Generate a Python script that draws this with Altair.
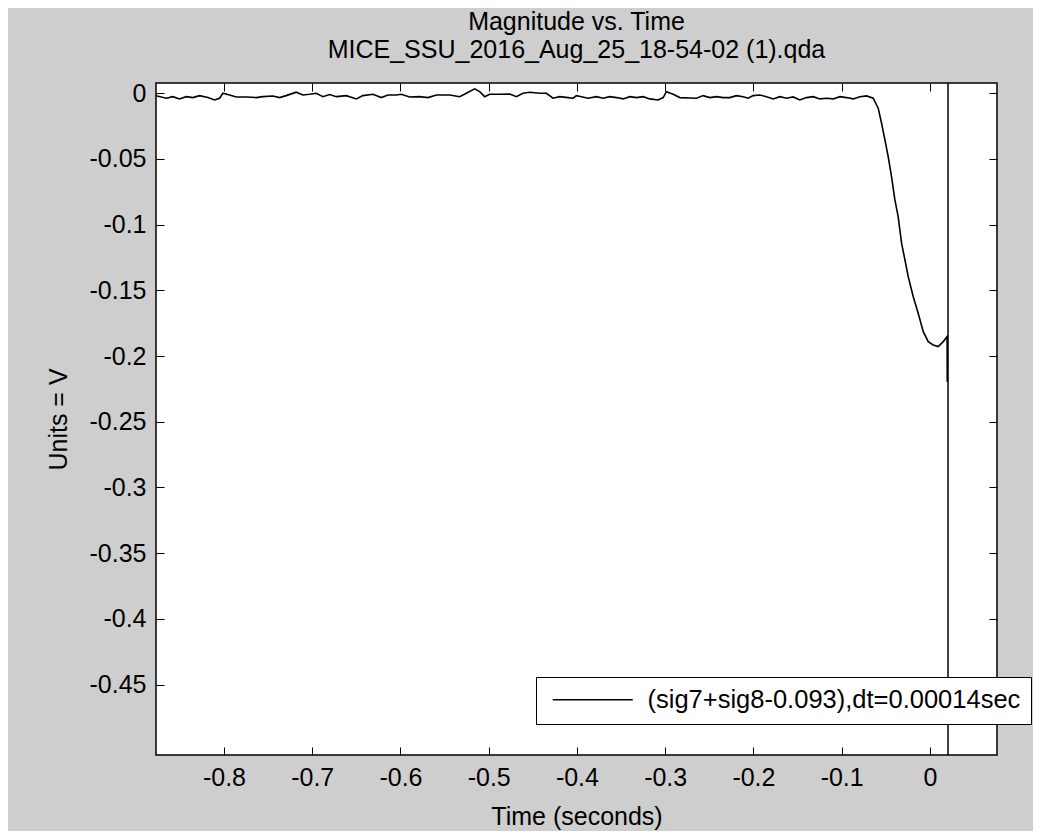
import altair as alt
import pandas as pd

# ---- data ----
time_s = [
    -0.8775, -0.8654, -0.8579, -0.8503, -0.8427, -0.8352, -0.8277, -0.8182, -0.8107, -0.8050,
    -0.8012, -0.7937, -0.7861, -0.7748, -0.7634, -0.7559, -0.7446, -0.7370, -0.7295, -0.7181,
    -0.7106, -0.7029, -0.6954, -0.6878, -0.6803,
    -0.6727, -0.6614, -0.6500, -0.6425, -0.6312, -0.6217, -0.6142, -0.6046, -0.5990, -0.5896,
    -0.5782, -0.5688, -0.5593, -0.5442, -0.5329, -0.5253, -0.5159, -0.5102, -0.5045, -0.4989,
    -0.4875, -0.4762,
    -0.4686, -0.4611, -0.4535, -0.4422, -0.4346, -0.4271, -0.4195, -0.4101, -0.4044, -0.4006,
    -0.3949, -0.3874, -0.3779, -0.3703, -0.3628, -0.3552, -0.3477, -0.3401, -0.3325, -0.3250,
    -0.3175, -0.3080, -0.3023, -0.2986, -0.2910, -0.2834, -0.2721,
    -0.2645, -0.2570, -0.2494, -0.2418, -0.2343, -0.2268, -0.2192, -0.2117, -0.2060, -0.2003,
    -0.1927, -0.1852, -0.1777, -0.1701, -0.1625, -0.1550, -0.1474, -0.1399, -0.1323, -0.1247,
    -0.1172, -0.1096, -0.1020, -0.0945, -0.0870, -0.0794, -0.0718,
    -0.0643, -0.0586, -0.0548, -0.0510, -0.0473, -0.0435, -0.0397, -0.0360, -0.0321, -0.0283,
    -0.0246, -0.0189, -0.0133, -0.0076, -0.0019, 0.0037, 0.0094, 0.0151, 0.0195, 0.0196,
]
volts = [
    -0.0018, -0.0038, -0.0026, -0.0043, -0.0026, -0.0033, -0.0018, -0.0033, -0.0051, -0.0038,
    0.0000, -0.0013, -0.0028, -0.0028, -0.0033, -0.0026, -0.0021, -0.0033, -0.0018, 0.0008,
    -0.0013, -0.0008, 0.0000, -0.0026, -0.0010,
    -0.0026, -0.0018, -0.0043, -0.0018, -0.0008, -0.0033, -0.0013, -0.0013, -0.0008, -0.0028,
    -0.0026, -0.0033, -0.0013, -0.0013, -0.0026, 0.0000, 0.0033, 0.0012, -0.0026, -0.0008,
    -0.0008, -0.0006,
    -0.0026, 0.0000, 0.0008, 0.0000, 0.0000, -0.0038, -0.0026, -0.0033, -0.0038, -0.0018,
    -0.0026, -0.0038, -0.0026, -0.0038, -0.0026, -0.0033, -0.0043, -0.0026, -0.0033, -0.0026,
    -0.0043, -0.0051, -0.0033, 0.0012, -0.0008, -0.0033, -0.0036,
    -0.0038, -0.0018, -0.0033, -0.0026, -0.0033, -0.0033, -0.0018, -0.0026, -0.0038, -0.0018,
    -0.0013, -0.0026, -0.0043, -0.0026, -0.0038, -0.0028, -0.0051, -0.0033, -0.0026, -0.0043,
    -0.0038, -0.0043, -0.0026, -0.0033, -0.0043, -0.0026, -0.0020,
    -0.0038, -0.0114, -0.0228, -0.0355, -0.0482, -0.0635, -0.0812, -0.0939, -0.1142, -0.1269,
    -0.1396, -0.1548, -0.1674, -0.1814, -0.1890, -0.1916, -0.1928, -0.1890, -0.1852, -0.2195,
]
marker_time = [0.0205]

x_ticks = [-0.8, -0.7, -0.6, -0.5, -0.4, -0.3, -0.2, -0.1, 0.0]
y_ticks = [0.0, -0.05, -0.1, -0.15, -0.2, -0.25, -0.3, -0.35, -0.4, -0.45]
x_domain = [-0.877, 0.076]
y_domain = [-0.5036, 0.0078]

series_label = "(sig7+sig8-0.093),dt=0.00014sec"
title_lines = ["Magnitude vs. Time", "MICE_SSU_2016_Aug_25_18-54-02 (1).qda"]
x_title = "Time (seconds)"
y_title = "Units = V"

assert len(time_s) == len(volts)

FONT = "Liberation Sans"
FS = 25
BG = "#cecece"

df = pd.DataFrame({"t": time_s, "v": volts, "series": series_label,
                   "idx": list(range(len(time_s)))})
mk = pd.DataFrame({"t": marker_time})

xs = alt.Scale(domain=x_domain, nice=False, zero=False)
ys = alt.Scale(domain=y_domain, nice=False, zero=False)
label_expr = "datum.value == 0 ? '0' : '-' + format(abs(datum.value), '.2~f')"

common = dict(offset=-8, tickSize=8, domain=False, grid=False, tickColor="black",
              tickWidth=1, labelOverlap=False, labelFlush=False)

x_bottom = alt.Axis(orient="bottom", values=x_ticks, labelExpr=label_expr,
                    labelFont=FONT, labelFontSize=FS, labelColor="black", labelPadding=10,
                    title=x_title, titleFont=FONT, titleFontSize=FS, titleFontWeight="normal",
                    titleColor="black", titlePadding=14, **common)
y_left = alt.Axis(orient="left", values=y_ticks, labelExpr=label_expr,
                  labelFont=FONT, labelFontSize=FS, labelColor="black", labelPadding=10,
                  title=y_title, titleFont=FONT, titleFontSize=FS, titleFontWeight="normal",
                  titleColor="black", titlePadding=18, **common)
x_top = alt.Axis(orient="top", values=x_ticks, labels=False, title=None, **common)
y_right = alt.Axis(orient="right", values=y_ticks, labels=False, title=None, **common)

frame = alt.Chart(df).mark_line(strokeOpacity=0).encode(
    x=alt.X("t:Q", scale=xs, axis=x_top),
    y=alt.Y("v:Q", scale=ys, axis=y_right),
)

line = alt.Chart(df).mark_line(strokeWidth=1.6, clip=True).encode(
    x=alt.X("t:Q", scale=xs, axis=x_bottom),
    y=alt.Y("v:Q", scale=ys, axis=y_left),
    order="idx:Q",
    color=alt.Color("series:N", scale=alt.Scale(domain=[series_label], range=["black"]),
                    legend=alt.Legend(orient="none", legendX=380, legendY=594, title=None,
                                      symbolType="M-1,0H7", symbolSize=400,
                                      symbolStrokeWidth=1.5, symbolStrokeColor="black",
                                      symbolFillColor="transparent", symbolOffset=4,
                                      labelFont=FONT, labelFontSize=25.5, labelColor="black",
                                      labelOffset=72, labelLimit=1000,
                                      padding=10, fillColor="white", strokeColor="black")),
)

rule = alt.Chart(mk).mark_rule(color="black", strokeWidth=1.5).encode(
    x=alt.X("t:Q", scale=xs, axis=None),
)

chart = alt.layer(frame, line, rule).resolve_axis(x="independent", y="independent").properties(
    width=841,
    height=672,
    autosize=alt.AutoSizeParams(type="none"),
    padding={"left": 148, "top": 75, "right": 36, "bottom": 76},
    background=BG,
    title=alt.TitleParams(text=title_lines, font=FONT, fontSize=25, fontWeight="normal",
                          color="black", anchor="middle", offset=18, lineHeight=28),
).configure_view(fill="white", stroke="black", strokeWidth=1.5)

chart.save("out.html", embed_options={"renderer": "svg", "actions": False})
